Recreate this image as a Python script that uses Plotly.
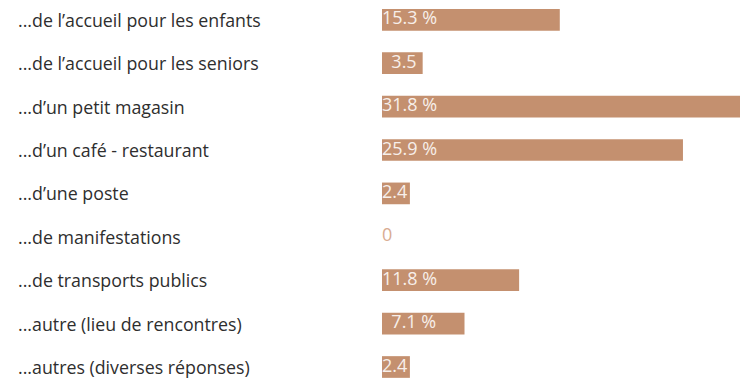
import plotly.graph_objects as go

# Survey answers: "Il manque au village..." (share of respondents, %)
categories = [
    "...de l\u2019accueil pour les enfants",
    "...de l\u2019accueil pour les seniors",
    "...d\u2019un petit magasin",
    "...d\u2019un caf\u00e9 - restaurant",
    "...d\u2019une poste",
    "...de manifestations",
    "...de transports publics",
    "...autre (lieu de rencontres)",
    "...autres (diverses r\u00e9ponses)",
]
values = [15.3, 3.5, 31.8, 25.9, 2.4, 0, 11.8, 7.1, 2.4]
# whether the value label carries a percent sign
show_pct = [True, False, True, True, False, False, True, True, False]
# labels written with a small leading indent
indented = [False, True, False, False, False, False, False, True, False]

W, H = 740, 378
BAR_LEFT = 382          # px where the bar axis starts
PX_PER_UNIT = 11.62     # horizontal scale
ROW0, ROW_STEP = 19.8, 43.4

BAR_COLOR = "#c4906f"
ZERO_COLOR = "#d9ac92"
TEXT_COLOR = "#2e2e2e"
FONT = "'Open Sans', Lato, sans-serif"

pos = list(range(len(categories)))


def fmt(v, pct, ind):
    s = f"{v:g}"
    if pct:
        s += " %"
    if ind:
        s = "\u00a0\u00a0" + s
    return s


labels = [fmt(v, p, i) for v, p, i in zip(values, show_pct, indented)]
label_colors = ["#f7efea" if v > 0 else ZERO_COLOR for v in values]

fig = go.Figure()
fig.add_trace(go.Bar(
    x=values, y=pos, orientation="h",
    marker=dict(color=BAR_COLOR, line=dict(width=0)),
    width=0.5, hoverinfo="skip",
))
fig.add_trace(go.Scatter(
    x=[0] * len(values), y=pos, mode="text",
    text=labels, textposition="middle right",
    textfont=dict(family=FONT, size=18, color=label_colors),
    hoverinfo="skip", cliponaxis=False,
))

for p, c in zip(pos, categories):
    fig.add_annotation(
        x=16 / W, xref="paper", xanchor="left",
        y=p, yref="y", yanchor="middle",
        text=c, showarrow=False,
        font=dict(family=FONT, size=17.8, color=TEXT_COLOR),
    )

x_max = (W - BAR_LEFT) / PX_PER_UNIT
y_top = -ROW0 / ROW_STEP
y_bot = (H - ROW0) / ROW_STEP

fig.update_layout(
    width=W, height=H,
    margin=dict(l=0, r=0, t=0, b=0),
    paper_bgcolor="white", plot_bgcolor="white",
    showlegend=False,
    xaxis=dict(domain=[BAR_LEFT / W, 1], range=[0, x_max],
               visible=False, fixedrange=True),
    yaxis=dict(range=[y_bot, y_top], visible=False, fixedrange=True),
)

fig.write_html("out.html")
